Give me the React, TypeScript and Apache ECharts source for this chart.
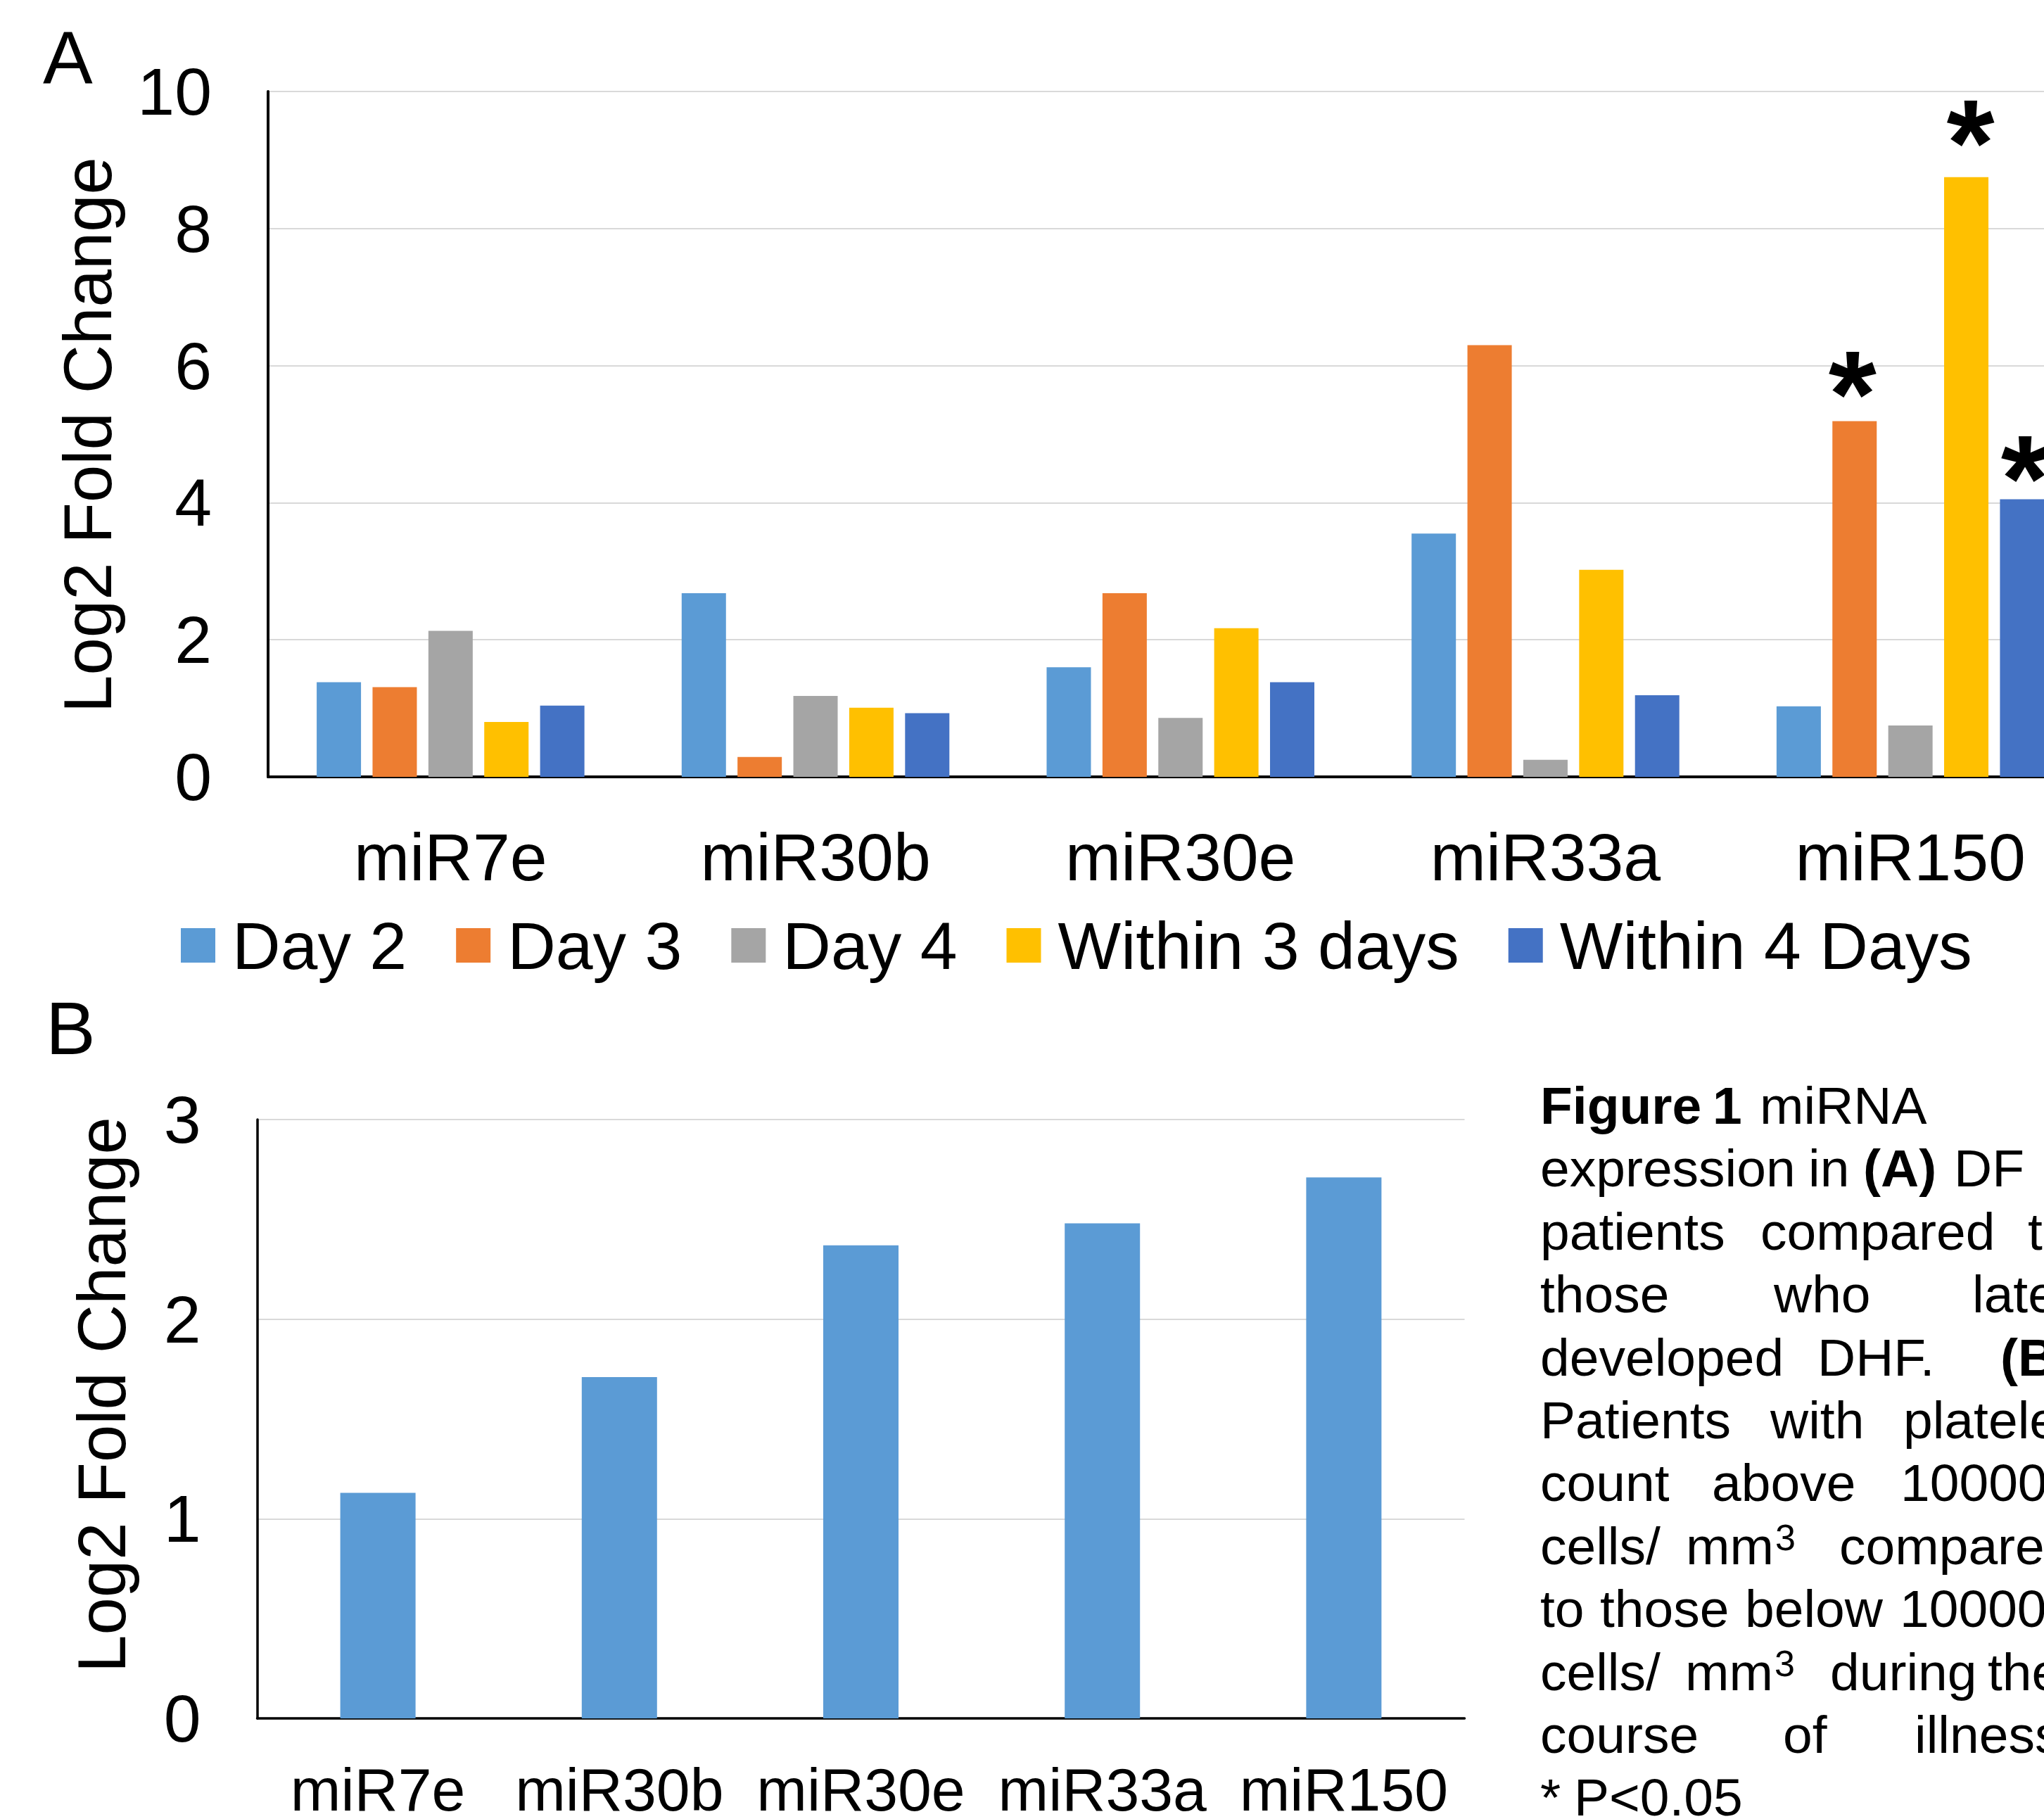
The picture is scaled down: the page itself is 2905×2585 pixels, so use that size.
import React, { useEffect, useRef } from 'react';
import * as echarts from 'echarts';

// ---------- data ----------
const categories = ['miR7e', 'miR30b', 'miR30e', 'miR33a', 'miR150'];
const seriesNames = ['Day 2', 'Day 3', 'Day 4', 'Within 3 days', 'Within 4 Days'];
const day2 = [1.38, 2.68, 1.6, 3.55, 1.03];
const day3 = [1.31, 0.29, 2.68, 6.3, 5.19];
const day4 = [2.13, 1.18, 0.86, 0.25, 0.75];
const within3 = [0.8, 1.01, 2.17, 3.02, 8.75];
const within4 = [1.04, 0.93, 1.38, 1.19, 4.05];
const plateletValues = [1.13, 1.71, 2.37, 2.48, 2.71];
const yTicksA = [0, 2, 4, 6, 8, 10];
const yTicksB = [0, 1, 2, 3];
// significant points: [series index, category index]
const significant = [
  [1, 4],
  [3, 4],
  [4, 4],
];
const axisTitle = 'Log2 Fold Change';
const panelLabels = ['A', 'B'];
const captionLines: { t: string; b?: boolean; sup?: string }[][] = [
  [{ t: 'Figure', b: true }, { t: '1', b: true }, { t: 'miRNA' }],
  [{ t: 'expression' }, { t: 'in' }, { t: '(A)', b: true }, { t: 'DF' }],
  [{ t: 'patients' }, { t: 'compared' }, { t: 'to' }],
  [{ t: 'those' }, { t: 'who' }, { t: 'later' }],
  [{ t: 'developed' }, { t: 'DHF.' }, { t: '(B)', b: true }],
  [{ t: 'Patients' }, { t: 'with' }, { t: 'platelet' }],
  [{ t: 'count' }, { t: 'above' }, { t: '100000' }],
  [{ t: 'cells/' }, { t: 'mm', sup: '3' }, { t: 'compared' }],
  [{ t: 'to' }, { t: 'those' }, { t: 'below' }, { t: '100000' }],
  [{ t: 'cells/' }, { t: 'mm', sup: '3' }, { t: 'during' }, { t: 'the' }],
  [{ t: 'course' }, { t: 'of' }, { t: 'illness.' }],
  [{ t: '*' }, { t: 'P<0.05' }],
];

// ---------- layout / style ----------
const FONT = '"Liberation Sans", Arial, Helvetica, sans-serif';
const colors = ['#5B9BD5', '#ED7D31', '#A5A5A5', '#FFC000', '#4472C4'];
const captionWordX = [
  [2189, 2434, 2501],
  [2189, 2570, 2648, 2777],
  [2189, 2502, 2882],
  [2189, 2521, 2803],
  [2189, 2583, 2843],
  [2189, 2516, 2705],
  [2189, 2433, 2701],
  [2189, 2396, 2614],
  [2189, 2274, 2480, 2700],
  [2189, 2395, 2601, 2825],
  [2189, 2534, 2721],
  [2189, 2237],
];
const starOffsets: Record<string, [number, number]> = {
  '1-4': [-3, 49],
  '3-4': [6, 38],
  '4-4': [4, 57],
};

export default function App() {
  const ref = useRef<HTMLDivElement>(null);

  useEffect(() => {
    if (!ref.current) return;
    const chart = echarts.init(ref.current, undefined, { renderer: 'svg' });

    const seriesData = [day2, day3, day4, within3, within4];
    const isSig = (si: number, ci: number) =>
      significant.some(([s, c]) => s === si && c === ci);

    const seriesA = seriesData.map((vals, si) => ({
      name: seriesNames[si],
      type: 'bar',
      xAxisIndex: 0,
      yAxisIndex: 0,
      barWidth: 63,
      barGap: '26%',
      itemStyle: { color: colors[si] },
      data: vals.map((v, ci) => {
        if (!isSig(si, ci)) return v;
        return {
          value: v,
          label: {
            show: true,
            position: 'top',
            distance: 0,
            formatter: '*',
            offset: starOffsets[`${si}-${ci}`],
            fontSize: 175,
            fontWeight: 'bold',
            fontFamily: FONT,
            color: '#000',
          },
        };
      }),
    }));

    const seriesB = {
      name: 'Platelet',
      type: 'bar',
      xAxisIndex: 1,
      yAxisIndex: 1,
      barWidth: 107,
      itemStyle: { color: colors[0] },
      data: plateletValues,
    };

    const graphics: any[] = [];
    // panel labels
    graphics.push({
      type: 'text',
      x: 61,
      y: 81,
      style: { text: panelLabels[0], fontSize: 106, fontFamily: FONT, fill: '#000', align: 'left', verticalAlign: 'middle' },
    });
    graphics.push({
      type: 'text',
      x: 65,
      y: 1461,
      style: { text: panelLabels[1], fontSize: 106, fontFamily: FONT, fill: '#000', align: 'left', verticalAlign: 'middle' },
    });
    // axis titles
    graphics.push({
      type: 'text',
      x: 124,
      y: 618,
      rotation: Math.PI / 2,
      style: { text: axisTitle, fontSize: 96, fontFamily: FONT, fill: '#000', align: 'center', verticalAlign: 'middle' },
    });
    graphics.push({
      type: 'text',
      x: 144,
      y: 1982,
      rotation: Math.PI / 2,
      style: { text: axisTitle, fontSize: 96, fontFamily: FONT, fill: '#000', align: 'center', verticalAlign: 'middle' },
    });
    // caption
    const CAP = 75;
    const SUP = 52;
    captionLines.forEach((words, li) => {
      const baseline = 1597 + li * 89.4;
      const y = baseline - 0.3465 * CAP;
      words.forEach((w, wi) => {
        const x = captionWordX[li][wi];
        graphics.push({
          type: 'text',
          x,
          y,
          style: {
            text: w.t,
            fontSize: CAP,
            fontWeight: w.b ? 'bold' : 'normal',
            fontFamily: FONT,
            fill: '#000',
            align: 'left',
            verticalAlign: 'middle',
          },
        });
        if (w.sup) {
          const supBaseline = baseline - 20;
          graphics.push({
            type: 'text',
            x: x + w.t.length * 0.833 * CAP + 2,
            y: supBaseline - 0.3465 * SUP,
            style: {
              text: w.sup,
              fontSize: SUP,
              fontFamily: FONT,
              fill: '#000',
              align: 'left',
              verticalAlign: 'middle',
            },
          });
        }
      });
    });

    const option: any = {
      animation: false,
      backgroundColor: '#fff',
      textStyle: { fontFamily: FONT },
      grid: [
        { left: 381, top: 130, right: -69.5, height: 974, containLabel: false, outerBoundsMode: 'none' },
        { left: 365.5, top: 1591, width: 1716, height: 851, containLabel: false, outerBoundsMode: 'none' },
      ],
      legend: {
        data: seriesNames,
        left: 257,
        top: 1296,
        padding: 0,
        itemWidth: 49,
        itemHeight: 49,
        itemGap: 70,
        icon: 'rect',
        textStyle: { fontSize: 95, fontFamily: FONT, color: '#000', padding: [0, 0, 0, 19] },
      },
      xAxis: [
        {
          type: 'category',
          gridIndex: 0,
          data: categories,
          axisTick: { show: false },
          axisLine: { lineStyle: { color: '#000', width: 4 } },
          axisLabel: { fontSize: 95, color: '#000', margin: 66, fontFamily: FONT, interval: 0 },
        },
        {
          type: 'category',
          gridIndex: 1,
          data: categories,
          axisTick: { show: false },
          axisLine: { lineStyle: { color: '#000', width: 3.5 } },
          axisLabel: { fontSize: 86, color: '#000', margin: 58, fontFamily: FONT, interval: 0 },
        },
      ],
      yAxis: [
        {
          type: 'value',
          gridIndex: 0,
          min: yTicksA[0],
          max: yTicksA[yTicksA.length - 1],
          interval: yTicksA[1] - yTicksA[0],
          axisLine: { show: true, lineStyle: { color: '#000', width: 4 } },
          axisTick: { show: false },
          splitLine: { lineStyle: { color: '#D9D9D9', width: 2 } },
          axisLabel: { fontSize: 95, color: '#000', margin: 80, fontFamily: FONT },
        },
        {
          type: 'value',
          gridIndex: 1,
          min: yTicksB[0],
          max: yTicksB[yTicksB.length - 1],
          interval: yTicksB[1] - yTicksB[0],
          axisLine: { show: true, lineStyle: { color: '#000', width: 3.5 } },
          axisTick: { show: false },
          splitLine: { lineStyle: { color: '#D9D9D9', width: 2 } },
          axisLabel: { fontSize: 95, color: '#000', margin: 80, fontFamily: FONT },
        },
      ],
      series: [...seriesA, seriesB],
      graphic: graphics,
    };

    chart.setOption(option);
    return () => chart.dispose();
  }, []);

  return (
    <div
      ref={ref}
      style={{ position: 'absolute', left: 0, top: 0, width: 2905, height: 2585, background: '#fff' }}
    />
  );
}
